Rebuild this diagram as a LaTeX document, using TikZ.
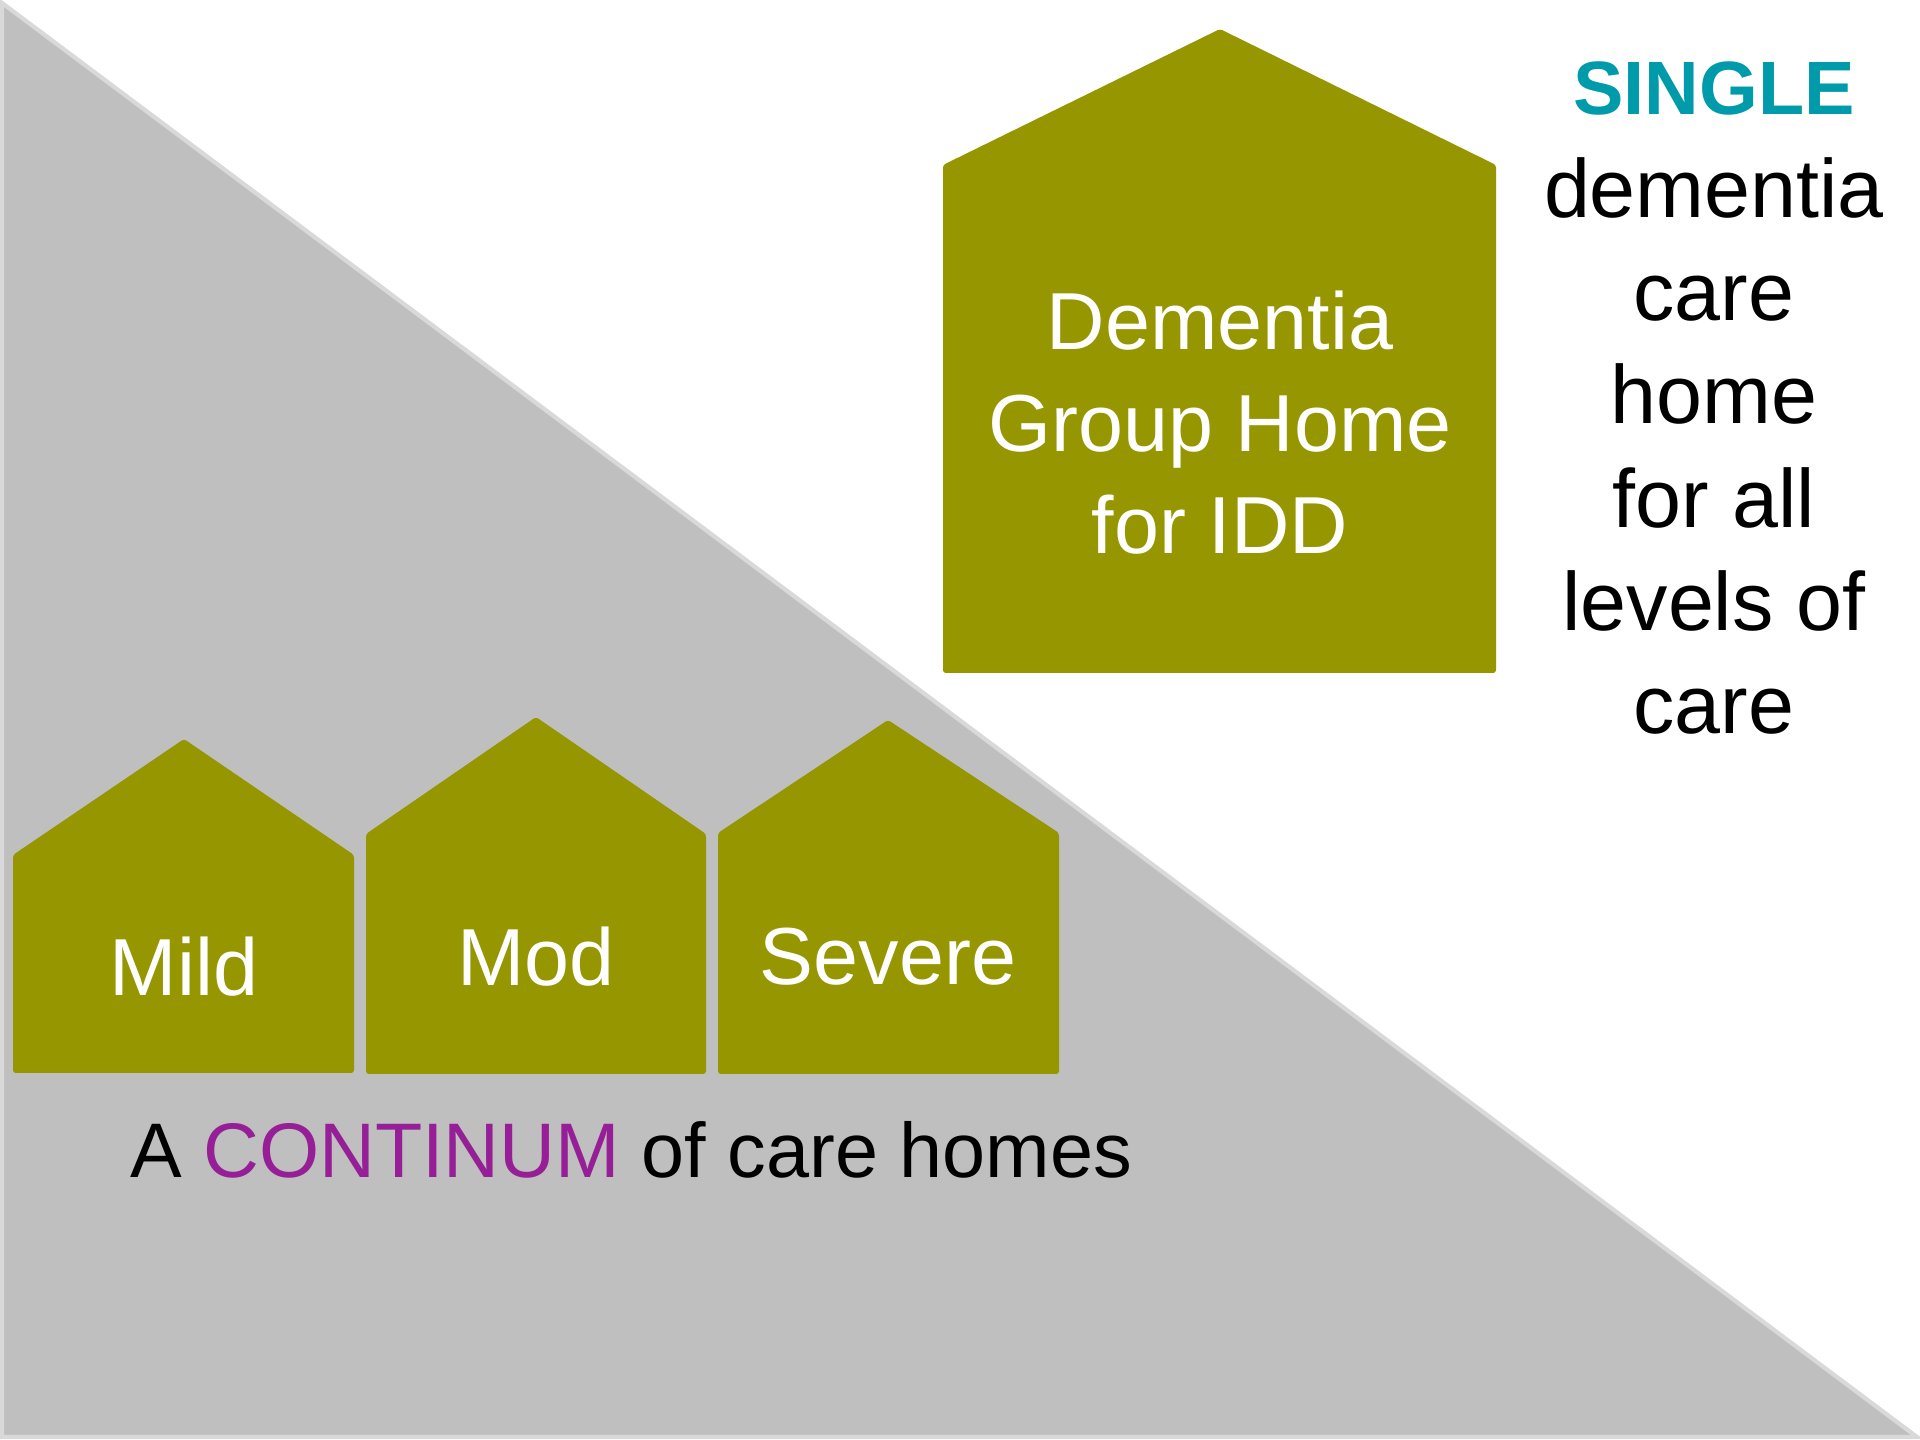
\documentclass[tikz,border=0pt]{standalone}
\usepackage{fontspec}
\setmainfont{Liberation Sans}
\definecolor{houseolive}{RGB}{150,150,0}
\definecolor{wedgegray}{RGB}{191,191,191}
\definecolor{wedgeedge}{RGB}{217,217,217}
\definecolor{singleteal}{RGB}{0,155,170}
\definecolor{continuumpurple}{RGB}{150,30,150}

\begin{document}
\begin{tikzpicture}[
    x=0.01cm, y=-0.01cm,
    house/.style={%
        fill=houseolive, draw=none,
        rounded corners=0.8pt},
    houselabel/.style={%
        text=white, inner sep=0pt, align=center,
        font=\fontsize{23}{29}\selectfont},
    sidetext/.style={%
        text=black, inner sep=0pt, align=center,
        font=\fontsize{23.5}{29.3}\selectfont},
]
    \useasboundingbox (0,0) rectangle (1920,1440);

    % Grey wedge
    \filldraw[fill=wedgegray, draw=wedgeedge, line width=1.2pt, line join=miter]
        (2,3) -- (1917,1437) -- (2,1437) -- cycle;

    % Houses
    \fill[house] (943,673) -- (943,165) -- (1220,29) -- (1496,165) -- (1496,673) -- cycle;
    \fill[house] (13,1073) -- (13,855) -- (184,739) -- (354,855) -- (354,1073) -- cycle;
    \fill[house] (366,1074) -- (366,834) -- (536,717) -- (706,834) -- (706,1074) -- cycle;
    \fill[house] (718,1074) -- (718,833) -- (888,720) -- (1059,833) -- (1059,1074) -- cycle;

    % Labels
    \node[houselabel] (idd) at (1220,423) {Dementia\\Group Home\\for IDD};
    \node[houselabel] (mild) at (184,967) {Mild};
    \node[houselabel] (mod) at (536,957) {Mod};
    \node[houselabel] (severe) at (888,957) {Severe};

    \node[sidetext, anchor=base, font=\fontsize{22}{29}\selectfont] (continuum) at (631,1178)
        {A {\color{continuumpurple}CONTINUM} of care homes};

    \node[sidetext] (single) at (1714,398)
        {{\color{singleteal}\bfseries\fontsize{21.5}{29}\selectfont SINGLE}\\dementia\\care\\home\\for all\\levels of\\care};
\end{tikzpicture}
\end{document}
